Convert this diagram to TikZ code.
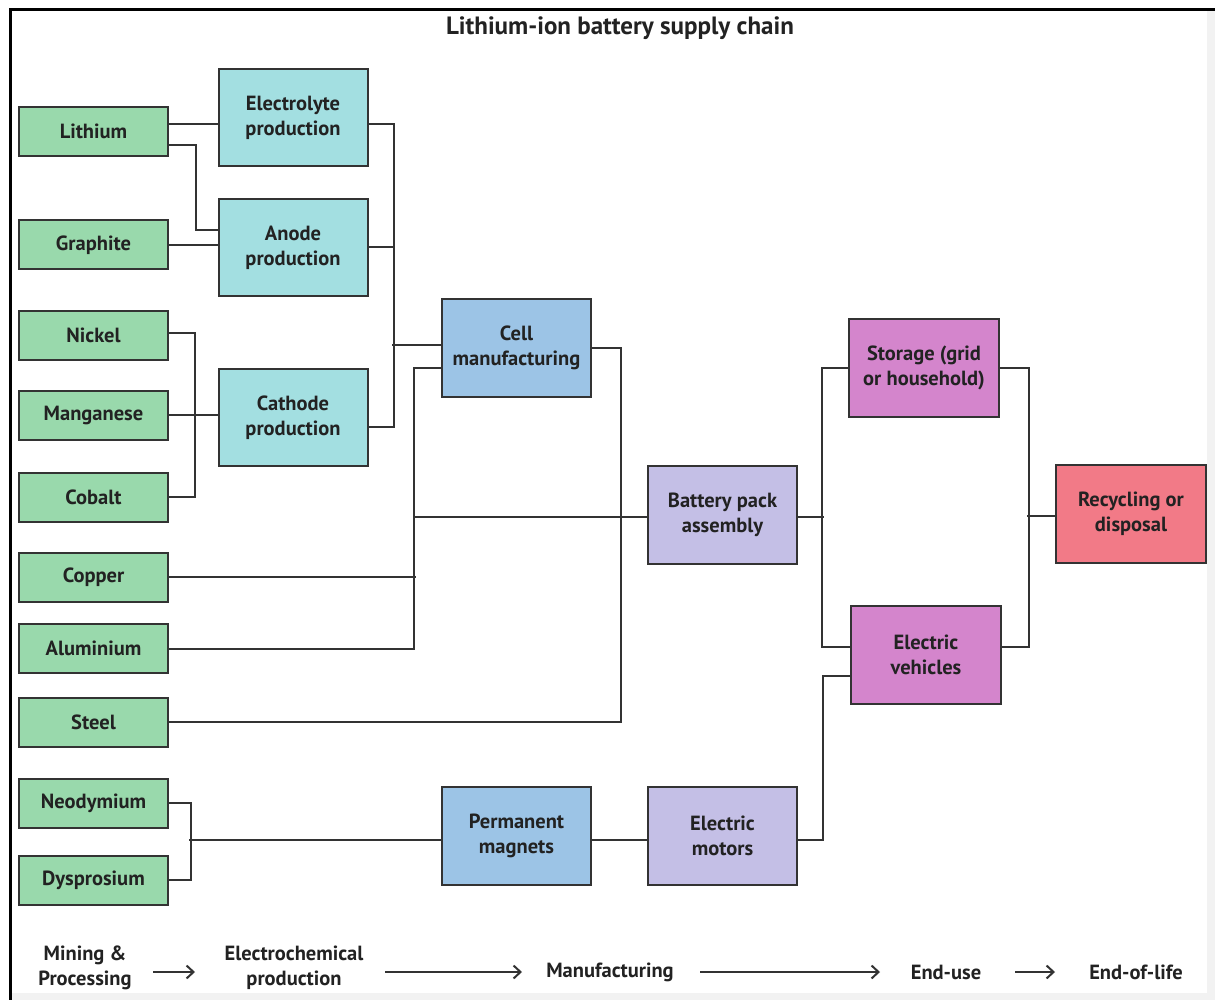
\documentclass[tikz,border=0pt]{standalone}
\usepackage{fontspec}
\setmainfont{PT Sans}
\usetikzlibrary{arrows.meta}
\definecolor{cgreen}{HTML}{99D9AC}
\definecolor{cteal}{HTML}{A3DFE1}
\definecolor{cblue}{HTML}{9CC4E6}
\definecolor{clav}{HTML}{C4BFE6}
\definecolor{cmag}{HTML}{D485CC}
\definecolor{cpink}{HTML}{F27A87}
\definecolor{cline}{HTML}{333333}
\definecolor{ctext}{HTML}{222222}
\definecolor{cstrip}{HTML}{F2F2F2}
\tikzset{
  box/.style={draw=cline, line width=2pt, minimum width=149pt, minimum height=49pt,
    inner sep=2pt, align=center, text=ctext,
    font=\bfseries\fontsize{20.5}{25}\selectfont},
  rawbox/.style={box, fill=cgreen},
  elbox/.style={box, fill=cteal, minimum height=97pt},
  mfbox/.style={box, fill=cblue, minimum height=98pt},
  asbox/.style={box, fill=clav, minimum height=98pt},
  usebox/.style={box, fill=cmag, minimum width=150pt, minimum height=98pt},
  eolbox/.style={box, fill=cpink, minimum width=150pt, minimum height=98pt},
  link/.style={draw=cline, line width=2pt},
  stage/.style={align=center, text=ctext, font=\bfseries\fontsize{20.5}{25}\selectfont},
  stagearrow/.style={draw=cline, line width=2pt, -{Straight Barb[length=7pt,width=13pt,line width=2pt]}}
}
\begin{document}
\begin{tikzpicture}[x=1pt,y=-1pt]
\useasboundingbox (0,0) rectangle (1215,1000);
\fill[white] (0,0) rectangle (1215,1000);
\fill[cstrip] (1207,10) rectangle (1215,1000);
\fill[cstrip] (10,993) rectangle (1215,1000);
\draw[black, line width=3pt] (10,1000) -- (10,10) -- (1215,10);

\node[font=\bfseries\fontsize{25}{30}\selectfont, text=ctext] (title) at (620,28) {Lithium-ion battery supply chain};

% raw materials
\node[rawbox] (li) at (93.5,131.5) {Lithium};
\node[rawbox] (gr) at (93.5,245) {Graphite};
\node[rawbox] (ni) at (93.5,335) {Nickel};
\node[rawbox] (mn) at (93.5,415) {Manganese};
\node[rawbox] (co) at (93.5,497) {Cobalt};
\node[rawbox] (cu) at (93.5,577) {Copper};
\node[rawbox] (al) at (93.5,648.5) {Aluminium};
\node[rawbox] (st) at (93.5,722) {Steel};
\node[rawbox] (nd) at (93.5,803) {Neodymium};
\node[rawbox] (dy) at (93.5,880) {Dysprosium};

% electrochemical
\node[elbox] (el) at (293,117.5) {Electrolyte\\production};
\node[elbox] (an) at (293,247.5) {Anode\\production};
\node[elbox] (ca) at (293,417.5) {Cathode\\production};

% manufacturing
\node[mfbox] (cm) at (516.5,347.5) {Cell\\manufacturing};
\node[mfbox] (pm) at (516.5,836) {Permanent\\magnets};
\node[asbox] (bp) at (722.5,515) {Battery pack\\assembly};
\node[asbox] (em) at (722.5,836) {Electric\\motors};

% end use
\node[usebox] (sg) at (924,367.5) {Storage (grid\\or household)};
\node[usebox] (ev) at (926,654.5) {Electric\\vehicles};
\node[eolbox] (rc) at (1131,514) {Recycling or\\disposal};

% connectors
\draw[link] ([yshift=7.5pt]li.east) -- ([yshift=7.5pt]li.east -| el.west);
\draw[link] ([yshift=-13.5pt]li.east) -- ++(27,0) |- ([yshift=17.5pt]an.west);
\draw[link] (gr.east) -- (gr.east -| an.west);
\draw[link] ([yshift=-6.5pt]el.east) -- ++(25.5,0) |- ([yshift=-9.5pt]ca.east);
\draw[link] (an.east) -- ++(25.5,0);
\draw[link] ([yshift=2.5pt]cm.west) -- ++(-49,0);
\draw[link] ([yshift=2pt]ni.east) -- ++(26,0) |- (co.east);
\draw[link] (mn.east) -- (mn.east -| ca.west);
\draw[link] ([yshift=-20.5pt]cm.west) -- ++(-27,0) |- (al.east);
\draw[link] (cu.east) -- ++(247,0);
\draw[link] ([yshift=-1.5pt]bp.west) -- ++(-233,0);
\draw[link] (cm.east) -- ++(29,0) |- (st.east);
\draw[link] ([yshift=-1.5pt]bp.east) -- ++(26,0);
\draw[link] (sg.west) -- ++(-26,0) |- ([yshift=7.5pt]ev.west);
\draw[link] (sg.east) -- ++(29,0) |- ([yshift=7.5pt]ev.east);
\draw[link] ([yshift=-2pt]rc.west) -- ++(-28,0);
\draw[link] ([yshift=-21.5pt]ev.west) -- ++(-27,0) |- ([yshift=-4pt]em.east);
\draw[link] ([yshift=-4pt]pm.east) -- ([yshift=-4pt]em.west);
\draw[link] (nd.east) -- ++(22,0) |- (dy.east);
\draw[link] ([yshift=-4pt]pm.west) -- ++(-252,0);

% stages
\node[stage] (s1) at (85,968) {Mining \&\\Processing};
\node[stage] (s2) at (294,968) {Electrochemical\\production};
\node[stage] (s3) at (610,972) {Manufacturing};
\node[stage] (s4) at (946,972) {End-use};
\node[stage] (s5) at (1136,972) {End-of-life};
\coordinate (a1s) at (153,972); \coordinate (a1e) at (195,972);
\coordinate (a2s) at (385,972); \coordinate (a2e) at (522,972);
\coordinate (a3s) at (700,972); \coordinate (a3e) at (880,972);
\coordinate (a4s) at (1015,972); \coordinate (a4e) at (1055,972);
\draw[stagearrow] (a1s) -- (a1e);
\draw[stagearrow] (a2s) -- (a2e);
\draw[stagearrow] (a3s) -- (a3e);
\draw[stagearrow] (a4s) -- (a4e);
\end{tikzpicture}
\end{document}
